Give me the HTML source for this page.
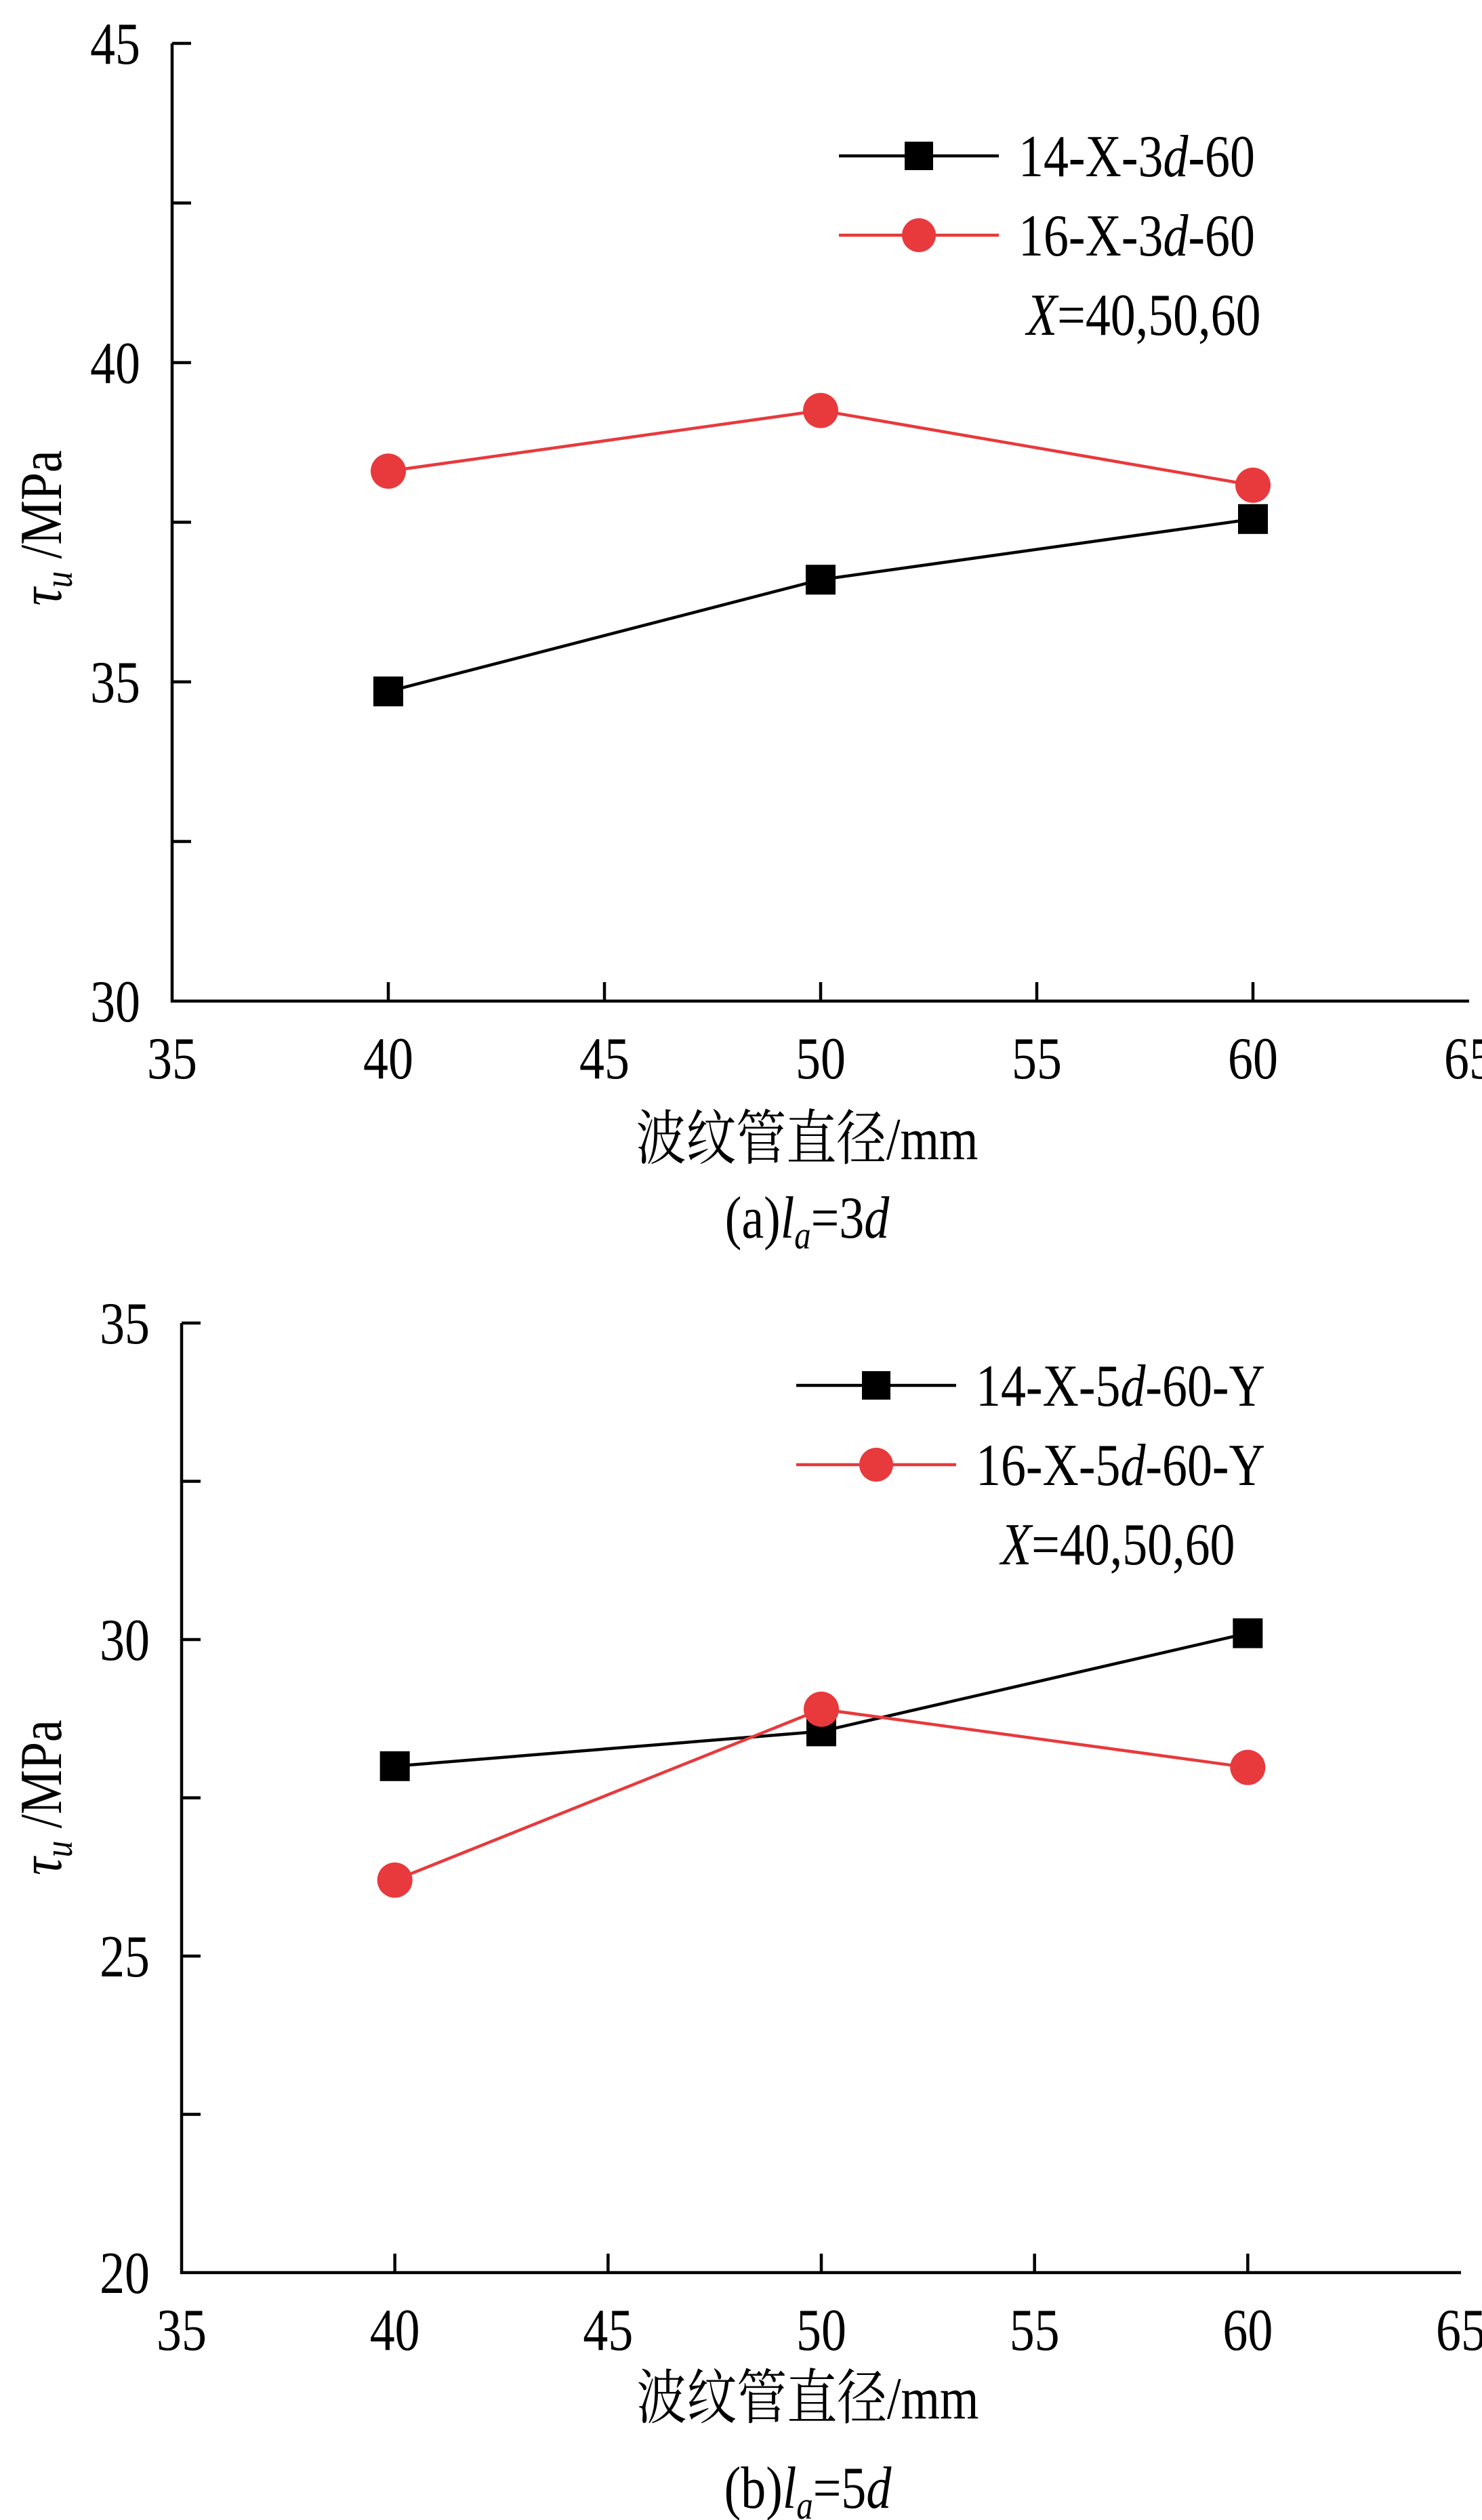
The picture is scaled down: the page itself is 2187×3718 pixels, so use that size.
<!DOCTYPE html>
<html><head><meta charset="utf-8"><style>
html,body{margin:0;padding:0;background:#fff}
svg{display:block}
text{font-family:"Liberation Serif","Noto Serif CJK SC",serif;fill:#000}
</style></head><body>
<svg id="svg" width="2187" height="3718" viewBox="0 0 2187 3718" xmlns="http://www.w3.org/2000/svg"></svg>
<script>
const categories = [40, 50, 60];
const aBlack = [34.85, 36.6, 37.55];
const aRed = [38.3, 39.25, 38.08];
const bBlack = [28.0, 28.55, 30.1];
const bRed = [26.2, 28.9, 27.98];
const xTicks = [35, 40, 45, 50, 55, 60, 65];
const aYTicks = [30, 35, 40, 45];
const bYTicks = [20, 25, 30, 35];
const aLegend = ['14-X-3', '16-X-3'];
const bLegend = ['14-X-5', '16-X-5'];

const NS = 'http://www.w3.org/2000/svg';
const svg = document.getElementById('svg');
const SX = 0.84;
function mk(tag, attrs, parent, txt) {
  const e = document.createElementNS(NS, tag);
  for (const k in attrs) e.setAttribute(k, attrs[k]);
  if (txt !== undefined) e.textContent = txt;
  (parent || svg).appendChild(e);
  return e;
}
function txt(x, y, size, anchor, parent, content) {
  return mk('text', {transform: `translate(${x},${y}) scale(${SX},1)`, 'font-size': size, 'text-anchor': anchor}, parent, content);
}
function panel(p) {
  const g = mk('g', {});
  
  
  const xs = v => p.L + (v - 35) / 30 * (p.R - p.L);
  const ys = v => p.B - (v - p.y0) / 15 * (p.B - p.T);
  const ax = mk('path', {d: `M${p.L},${p.T} V${p.B} H${p.R}`, stroke: '#000', 'stroke-width': 4.5, fill: 'none'}, g);
  
  
  xTicks.forEach(v => {
    if (v > 35 && v < 65) mk('line', {x1: xs(v), x2: xs(v), y1: p.B, y2: p.B - 28, stroke: '#000', 'stroke-width': 4.5}, g);
    const t = txt(xs(v), p.B + 114, 88, 'middle', g, v);
    
    
  });
  for (let v = p.y0; v <= p.y0 + 15; v += 2.5) {
    if (v > p.y0) mk('line', {x1: p.L, x2: p.L + 28, y1: ys(v), y2: ys(v), stroke: '#000', 'stroke-width': 4.5}, g);
  }
  p.yTicks.forEach(v => {
    const t = txt(p.L - 47, ys(v) + 30, 88, 'end', g, v);
    
    
  });
  const xt = txt((p.L + p.R) / 2 - 20, p.xTitleY, 88, 'middle', g, '波纹管直径/mm');
  
  
  const cap = txt((p.L + p.R) / 2 - 20, p.capY, 88, 'middle', g);
  
  
  mk('tspan', {}, cap, p.cap1);
  mk('tspan', {'font-style': 'italic'}, cap, 'l');
  mk('tspan', {'font-style': 'italic', 'font-size': 58, dy: 16}, cap, 'a');
  mk('tspan', {dy: -16}, cap, '=' + p.cap2);
  mk('tspan', {'font-style': 'italic'}, cap, 'd');
  const yt = mk('text', {transform: `translate(${p.yTitleX},${p.yTitleY}) rotate(-90) scale(${SX},1)`, 'font-size': 88, 'text-anchor': 'middle'}, g);
  
  
  mk('tspan', {'font-style': 'italic'}, yt, 'τ');
  mk('tspan', {'font-style': 'italic', 'font-size': 58, dy: 16}, yt, 'u');
  mk('tspan', {dy: -16}, yt, ' /MPa');
  const series = [{d: p.black, c: '#000', sq: true, n: 'series-black'}, {d: p.red, c: '#e8393c', sq: false, n: 'series-red'}];
  series.forEach(s => {
    const pts = categories.map((c, i) => [xs(c), ys(s.d[i])]);
    const l = mk('polyline', {points: pts.map(q => q.join(',')).join(' '), stroke: s.c, 'stroke-width': 4.5, fill: 'none'}, g);
    
    
    pts.forEach(q => {
      let m;
      if (s.sq) m = mk('rect', {x: q[0] - 22, y: q[1] - 22, width: 44, height: 44, fill: s.c}, g);
      else m = mk('circle', {cx: q[0], cy: q[1], r: 26, fill: s.c}, g);
      
      
    });
  });
  series.forEach((s, i) => {
    const y = p.legY + i * 117;
    const lg = mk('g', {}, g);
    
    
    mk('line', {x1: p.legX, x2: p.legX + 236, y1: y, y2: y, stroke: s.c, 'stroke-width': 4.5}, lg);
    if (s.sq) mk('rect', {x: p.legX + 118 - 21, y: y - 21, width: 42, height: 42, fill: s.c}, lg);
    else mk('circle', {cx: p.legX + 118, cy: y, r: 25, fill: s.c}, lg);
    const t = txt(p.legX + 265, y + 30, 88, 'start', lg);
    mk('tspan', {}, t, p.legend[i]);
    mk('tspan', {'font-style': 'italic'}, t, 'd');
    mk('tspan', {}, t, p.legSuffix);
  });
  const xn = txt(p.xNoteX, p.legY + 2 * 117 + 30, 88, 'start', g);
  
  
  mk('tspan', {'font-style': 'italic'}, xn, 'X');
  mk('tspan', {}, xn, '=40,50,60');
}
panel({name: 'chart-a', L: 254, R: 2168, T: 64, B: 1477, y0: 30, yTicks: aYTicks, black: aBlack, red: aRed,
  xTitleY: 1710, capY: 1826, cap1: '(a)', cap2: '3', yTitleX: 90, yTitleY: 779,
  legend: aLegend, legSuffix: '-60', legX: 1238, legY: 230, xNoteX: 1515});
panel({name: 'chart-b', L: 268, R: 2156, T: 1952, B: 3353, y0: 20, yTicks: bYTicks, black: bBlack, red: bRed,
  xTitleY: 3568, capY: 3700, cap1: '(b)', cap2: '5', yTitleX: 90, yTitleY: 2652,
  legend: bLegend, legSuffix: '-60-Y', legX: 1175, legY: 2044, xNoteX: 1477});
</script>
</body></html>
